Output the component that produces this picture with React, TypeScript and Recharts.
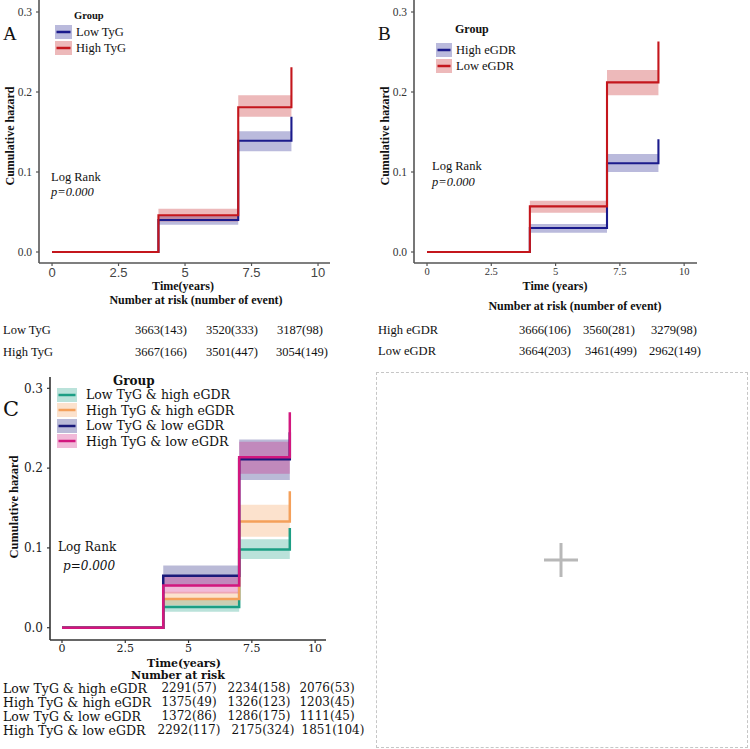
import React from 'react';
import { ComposedChart, Line, Area, XAxis, YAxis, Legend } from 'recharts';

const SERIF = '"Liberation Serif", "Times New Roman", serif';
const WIDE_SERIF = '"DejaVu Serif", serif';
const SANS = '"Liberation Sans", Arial, sans-serif';

// Follow-up times (years) where the cumulative hazard steps
const TIMES = [0, 4, 7, 9];
const X_TICKS = [0, 2.5, 5, 7.5, 10];
const Y_TICKS = [0, 0.1, 0.2, 0.3];
const BAND_OPACITY = 0.3;

// Panel A: TyG groups
const A_LOW_TYG = [0, 0.04, 0.139, 0.169];
const A_LOW_TYG_LO = [0, 0.034, 0.126, 0.126];
const A_LOW_TYG_HI = [0, 0.046, 0.151, 0.151];
const A_HIGH_TYG = [0, 0.046, 0.181, 0.231];
const A_HIGH_TYG_LO = [0, 0.038, 0.169, 0.169];
const A_HIGH_TYG_HI = [0, 0.054, 0.196, 0.196];
const A_RISK_LABELS = ['Low TyG', 'High TyG'];
const A_RISK_LOW = ['3663(143)', '3520(333)', '3187(98)'];
const A_RISK_HIGH = ['3667(166)', '3501(447)', '3054(149)'];

// Panel B: eGDR groups
const B_HIGH_EGDR = [0, 0.03, 0.111, 0.141];
const B_HIGH_EGDR_LO = [0, 0.024, 0.1, 0.1];
const B_HIGH_EGDR_HI = [0, 0.035, 0.1225, 0.1225];
const B_LOW_EGDR = [0, 0.057, 0.212, 0.263];
const B_LOW_EGDR_LO = [0, 0.049, 0.196, 0.196];
const B_LOW_EGDR_HI = [0, 0.064, 0.2275, 0.2275];
const B_RISK_LABELS = ['High eGDR', 'Low eGDR'];
const B_RISK_HIGH = ['3666(106)', '3560(281)', '3279(98)'];
const B_RISK_LOW = ['3664(203)', '3461(499)', '2962(149)'];

// Panel C: combined TyG / eGDR groups
const C_LT_HE = [0, 0.026, 0.098, 0.125];
const C_LT_HE_LO = [0, 0.02, 0.086, 0.086];
const C_LT_HE_HI = [0, 0.035, 0.111, 0.111];
const C_HT_HE = [0, 0.036, 0.133, 0.171];
const C_HT_HE_LO = [0, 0.028, 0.114, 0.114];
const C_HT_HE_HI = [0, 0.045, 0.154, 0.154];
const C_LT_LE = [0, 0.065, 0.211, 0.245];
const C_LT_LE_LO = [0, 0.052, 0.185, 0.185];
const C_LT_LE_HI = [0, 0.078, 0.236, 0.236];
const C_HT_LE = [0, 0.053, 0.2135, 0.27];
const C_HT_LE_LO = [0, 0.043, 0.193, 0.193];
const C_HT_LE_HI = [0, 0.065, 0.233, 0.233];
const C_RISK_LABELS = ['Low TyG & high eGDR', 'High TyG & high eGDR', 'Low TyG & low eGDR', 'High TyG & low eGDR'];
const C_RISK_LT_HE = ['2291(57)', '2234(158)', '2076(53)'];
const C_RISK_HT_HE = ['1375(49)', '1326(123)', '1203(45)'];
const C_RISK_LT_LE = ['1372(86)', '1286(175)', '1111(45)'];
const C_RISK_HT_LE = ['2292(117)', '2175(324)', '1851(104)'];

type Series = { key: string; name: string; color: string; values: number[]; lo: number[]; hi: number[] };

const NAVY = '#1b1b8c';
const RED = '#c4161c';

const A_SERIES: Series[] = [
  { key: 'low', name: 'Low TyG', color: NAVY, values: A_LOW_TYG, lo: A_LOW_TYG_LO, hi: A_LOW_TYG_HI },
  { key: 'high', name: 'High TyG', color: RED, values: A_HIGH_TYG, lo: A_HIGH_TYG_LO, hi: A_HIGH_TYG_HI },
];
const B_SERIES: Series[] = [
  { key: 'high', name: 'High eGDR', color: NAVY, values: B_HIGH_EGDR, lo: B_HIGH_EGDR_LO, hi: B_HIGH_EGDR_HI },
  { key: 'low', name: 'Low eGDR', color: RED, values: B_LOW_EGDR, lo: B_LOW_EGDR_LO, hi: B_LOW_EGDR_HI },
];
const C_SERIES: Series[] = [
  { key: 'lthe', name: 'Low TyG & high eGDR', color: '#1c9e84', values: C_LT_HE, lo: C_LT_HE_LO, hi: C_LT_HE_HI },
  { key: 'hthe', name: 'High TyG & high eGDR', color: '#f4a05a', values: C_HT_HE, lo: C_HT_HE_LO, hi: C_HT_HE_HI },
  { key: 'ltle', name: 'Low TyG & low eGDR', color: '#1a1a7a', values: C_LT_LE, lo: C_LT_LE_LO, hi: C_LT_LE_HI },
  { key: 'htle', name: 'High TyG & low eGDR', color: '#d2177e', values: C_HT_LE, lo: C_HT_LE_LO, hi: C_HT_LE_HI },
];

function buildRows(series: Series[]) {
  return TIMES.map((t, i) => {
    const row: Record<string, any> = { t };
    series.forEach((s) => {
      row[s.key] = s.values[i];
      row[s.key + 'Ci'] = [s.lo[i], s.hi[i]];
    });
    return row;
  });
}

type KeySpec = {
  font: string; titleLeft: number; titleTop: number; titleSize: number;
  rowTop: number; rowH: number; keyW: number; keyH: number; gap: number; fontSize: number; lineW: number;
};

function GroupKey({ spec, series }: { spec: KeySpec; series: Series[] }) {
  return (
    <div style={{ position: 'relative', width: 220, height: spec.rowTop + spec.rowH * series.length, fontFamily: spec.font, color: '#111' }}>
      <div style={{ position: 'absolute', left: spec.titleLeft, top: spec.titleTop, fontSize: spec.titleSize, lineHeight: `${spec.titleSize + 2}px`, fontWeight: 'bold', whiteSpace: 'nowrap' }}>Group</div>
      {series.map((s, i) => (
        <div key={s.key} style={{ position: 'absolute', left: 0, top: spec.rowTop + i * spec.rowH, height: spec.rowH, display: 'flex', alignItems: 'center', whiteSpace: 'nowrap' }}>
          <svg width={spec.keyW} height={spec.keyH} style={{ display: 'block' }}>
            <rect x={0} y={0} width={spec.keyW} height={spec.keyH} fill={s.color} fillOpacity={BAND_OPACITY} />
            <line x1={1.5} x2={spec.keyW - 1.5} y1={spec.keyH / 2} y2={spec.keyH / 2} stroke={s.color} strokeWidth={spec.lineW} />
          </svg>
          <span style={{ marginLeft: spec.gap, fontSize: spec.fontSize, lineHeight: `${spec.rowH}px` }}>{s.name}</span>
        </div>
      ))}
    </div>
  );
}

type PanelProps = {
  left: number; top: number; width: number; height: number;
  margin: { top: number; right: number; bottom: number; left: number };
  yAxisWidth: number; xDomain: [number, number]; yDomain: [number, number];
  xTick: any; yTick: any; xTickMargin: number; axisColor: string; lineWidth: number;
  series: Series[]; keySpec: KeySpec; keyLeft: number; keyTop: number;
};

function HazardPanel(p: PanelProps) {
  const rows = buildRows(p.series);
  return (
    <div style={{ position: 'absolute', left: p.left, top: p.top }}>
      <ComposedChart width={p.width} height={p.height} data={rows} margin={p.margin}>
        <XAxis
          dataKey="t" type="number" domain={p.xDomain} ticks={X_TICKS} interval={0} allowDataOverflow
          height={20} tickSize={3} tickMargin={p.xTickMargin}
          axisLine={{ stroke: p.axisColor, strokeWidth: 1.6 }} tickLine={{ stroke: p.axisColor, strokeWidth: 1.2 }}
          tick={p.xTick} tickFormatter={(v: number) => String(v)}
        />
        <YAxis
          type="number" domain={p.yDomain} ticks={Y_TICKS} interval={0} allowDataOverflow
          width={p.yAxisWidth} tickSize={3} tickMargin={4}
          axisLine={{ stroke: p.axisColor, strokeWidth: 1.6 }} tickLine={{ stroke: p.axisColor, strokeWidth: 1.2 }}
          tick={p.yTick} tickFormatter={(v: number) => v.toFixed(1)}
        />
        {p.series.map((s) => (
          <Area
            key={s.key + 'Ci'} dataKey={s.key + 'Ci'} type="stepAfter" stroke="none"
            fill={s.color} fillOpacity={BAND_OPACITY} dot={false} activeDot={false}
            isAnimationActive={false} legendType="none"
          />
        ))}
        {p.series.map((s) => (
          <Line
            key={s.key} dataKey={s.key} name={s.name} type="stepAfter" stroke={s.color}
            strokeWidth={p.lineWidth} dot={false} activeDot={false} isAnimationActive={false}
          />
        ))}
        <Legend
          layout="vertical" align="center" verticalAlign="middle"
          wrapperStyle={{ left: p.keyLeft, top: p.keyTop, width: 220 }}
          content={() => <GroupKey spec={p.keySpec} series={p.series} />}
        />
      </ComposedChart>
    </div>
  );
}

type TxtProps = {
  x: number; y: number; size: number; font?: string; bold?: boolean; italic?: boolean;
  center?: boolean; color?: string; children: React.ReactNode;
};

function Txt({ x, y, size, font = SERIF, bold, italic, center, color = '#111', children }: TxtProps) {
  return (
    <div
      style={{
        position: 'absolute', left: x, top: y - size * 0.6, fontSize: size, lineHeight: `${size * 1.2}px`,
        fontFamily: font, fontWeight: bold ? 'bold' : 'normal', fontStyle: italic ? 'italic' : 'normal',
        whiteSpace: 'nowrap', color, transform: center ? 'translateX(-50%)' : undefined,
      }}
    >
      {children}
    </div>
  );
}

function VTxt({ x, y, size, font = SERIF, children }: { x: number; y: number; size: number; font?: string; children: React.ReactNode }) {
  return (
    <div
      style={{
        position: 'absolute', left: x, top: y, fontSize: size, lineHeight: `${size * 1.2}px`, fontFamily: font,
        fontWeight: 'bold', whiteSpace: 'nowrap', color: '#111', transform: 'translate(-50%, -50%) rotate(-90deg)',
      }}
    >
      {children}
    </div>
  );
}

function RiskRow({ label, values, y, labelX, cols, size, valueSize, font }: {
  label: string; values: string[]; y: number; labelX: number; cols: number[]; size: number; valueSize: number; font: string;
}) {
  return (
    <>
      <Txt x={labelX} y={y} size={size} font={font}>{label}</Txt>
      {values.map((v, i) => (
        <Txt key={i} x={cols[i]} y={y} size={valueSize} font={font} center>{v}</Txt>
      ))}
    </>
  );
}

const AB_KEY_A: KeySpec = { font: SERIF, titleLeft: 19, titleTop: 1.5, titleSize: 10.5, rowTop: 16, rowH: 16, keyW: 17, keyH: 14, gap: 4, fontSize: 12.5, lineW: 2.5 };
const AB_KEY_B: KeySpec = { font: SERIF, titleLeft: 19, titleTop: 2, titleSize: 12, rowTop: 22, rowH: 16, keyW: 16, keyH: 14, gap: 4, fontSize: 12.5, lineW: 2.5 };
const C_KEY: KeySpec = { font: WIDE_SERIF, titleLeft: 56, titleTop: 1.7, titleSize: 12, rowTop: 15, rowH: 15.5, keyW: 20, keyH: 14, gap: 9, fontSize: 12.5, lineW: 2.5 };

export default function App() {
  const abYTick = { fill: '#333', fontSize: 11.5, fontFamily: SERIF };
  return (
    <div style={{ position: 'absolute', left: 0, top: 0, width: 750, height: 749, background: '#fff', overflow: 'hidden' }}>
      {/* Panel A */}
      <HazardPanel
        left={0} top={0} width={340} height={283}
        margin={{ top: 0, right: 10, bottom: 0, left: 0 }}
        yAxisWidth={39} xDomain={[-0.49, 10.45]} yDomain={[-0.01375, 0.315]}
        xTick={{ fill: '#444', fontSize: 13, fontFamily: SANS }} yTick={abYTick} xTickMargin={2}
        axisColor="#555" lineWidth={2.1} series={A_SERIES} keySpec={AB_KEY_A} keyLeft={55} keyTop={8}
      />
      <Txt x={3} y={34.5} size={19}>A</Txt>
      <VTxt x={10} y={136} size={12}>Cumulative hazard</VTxt>
      <Txt x={51} y={177} size={12.5}>Log Rank</Txt>
      <Txt x={51} y={192} size={12.5} italic>p=0.000</Txt>
      <Txt x={183} y={286} size={12} bold center>Time(years)</Txt>
      <Txt x={196} y={300} size={12} bold center>Number at risk (number of event)</Txt>
      <RiskRow label={A_RISK_LABELS[0]} values={A_RISK_LOW} y={330} labelX={3} cols={[161, 232, 300]} size={12.5} valueSize={12.5} font={SERIF} />
      <RiskRow label={A_RISK_LABELS[1]} values={A_RISK_HIGH} y={352} labelX={3} cols={[161, 232, 302]} size={12.5} valueSize={12.5} font={SERIF} />

      {/* Panel B */}
      <HazardPanel
        left={375} top={0} width={340} height={283}
        margin={{ top: 0, right: 18, bottom: 0, left: 0 }}
        yAxisWidth={39} xDomain={[-0.506, 10.5]} yDomain={[-0.01375, 0.315]}
        xTick={{ fill: '#333', fontSize: 10.5, fontFamily: SERIF }} yTick={abYTick} xTickMargin={2}
        axisColor="#555" lineWidth={2.1} series={B_SERIES} keySpec={AB_KEY_B} keyLeft={61} keyTop={20}
      />
      <Txt x={378} y={34} size={19}>B</Txt>
      <VTxt x={385} y={136} size={12}>Cumulative hazard</VTxt>
      <Txt x={432} y={166} size={12.5}>Log Rank</Txt>
      <Txt x={432} y={182} size={12.5} italic>p=0.000</Txt>
      <Txt x={555} y={286} size={12} bold center>Time (years)</Txt>
      <Txt x={575} y={306} size={12} bold center>Number at risk (number of event)</Txt>
      <RiskRow label={B_RISK_LABELS[0]} values={B_RISK_HIGH} y={330} labelX={378} cols={[545, 609, 674]} size={12.5} valueSize={12.5} font={SERIF} />
      <RiskRow label={B_RISK_LABELS[1]} values={B_RISK_LOW} y={351} labelX={378} cols={[545, 611, 675]} size={12.5} valueSize={12.5} font={SERIF} />

      {/* Panel C */}
      <HazardPanel
        left={0} top={370} width={340} height={290}
        margin={{ top: 7, right: 14, bottom: 0, left: 0 }}
        yAxisWidth={50} xDomain={[-0.474, 10.43]} yDomain={[-0.0154, 0.3142]}
        xTick={{ fill: '#222', fontSize: 11, fontFamily: WIDE_SERIF }}
        yTick={{ fill: '#222', fontSize: 12, fontFamily: WIDE_SERIF }} xTickMargin={1}
        axisColor="#333" lineWidth={2.5} series={C_SERIES} keySpec={C_KEY} keyLeft={57} keyTop={2}
      />
      <Txt x={3} y={409.5} size={21} font={WIDE_SERIF}>C</Txt>
      <VTxt x={14} y={507} size={12.5}>Cumulative hazard</VTxt>
      <Txt x={58} y={547} size={12} font={WIDE_SERIF}>Log Rank</Txt>
      <Txt x={63} y={566} size={12} font={WIDE_SERIF} italic>p=0.000</Txt>
      <Txt x={184} y={663.5} size={11} font={WIDE_SERIF} bold center>Time(years)</Txt>
      <Txt x={178} y={675.5} size={11} font={WIDE_SERIF} bold center>Number at risk</Txt>
      <RiskRow label={C_RISK_LABELS[0]} values={C_RISK_LT_HE} y={688} labelX={3} cols={[189, 259, 327]} size={12.5} valueSize={12} font={WIDE_SERIF} />
      <RiskRow label={C_RISK_LABELS[1]} values={C_RISK_HT_HE} y={702} labelX={3} cols={[189, 259, 327]} size={12.5} valueSize={12} font={WIDE_SERIF} />
      <RiskRow label={C_RISK_LABELS[2]} values={C_RISK_LT_LE} y={716} labelX={3} cols={[189, 259, 327]} size={12.5} valueSize={12} font={WIDE_SERIF} />
      <RiskRow label={C_RISK_LABELS[3]} values={C_RISK_HT_LE} y={730.5} labelX={3} cols={[189, 263, 333]} size={12.5} valueSize={12} font={WIDE_SERIF} />

      {/* Empty slot for a fourth panel */}
      <div style={{ position: 'absolute', left: 376, top: 372, width: 370, height: 374, border: '1px dashed #c6c6c6' }}>
        <svg width={370} height={374} style={{ position: 'absolute', left: 0, top: 0 }}>
          <line x1={167} x2={201} y1={187} y2={187} stroke="#b8b8b8" strokeWidth={3} />
          <line x1={184} x2={184} y1={170} y2={204} stroke="#b8b8b8" strokeWidth={3} />
        </svg>
      </div>
    </div>
  );
}
